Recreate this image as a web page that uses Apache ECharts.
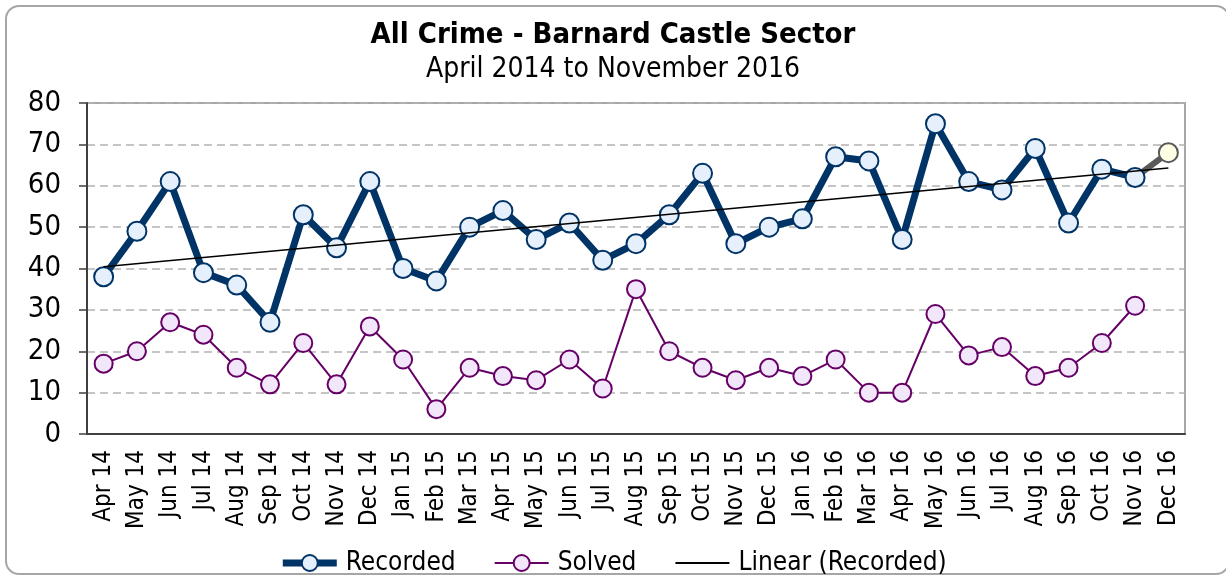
<!DOCTYPE html>
<html>
<head>
<meta charset="utf-8">
<title>All Crime - Barnard Castle Sector</title>
<script src="https://cdn.jsdelivr.net/npm/echarts@6/dist/echarts.min.js"></script>
<style>
  html, body { margin: 0; padding: 0; background: #fff; }
  #frame { position: absolute; left: 5px; top: 5px; width: 1225px; height: 570px;
           border: 2px solid #a6a6a6; border-radius: 14px; box-sizing: border-box; }
  #main { position: absolute; left: 0; top: 0; width: 1226px; height: 581px; }
</style>
</head>
<body>
<div id="frame"></div>
<div id="main"></div>
<script>
// month labels, Apr 14 .. Dec 16
var months = ['Apr 14','May 14','Jun 14','Jul 14','Aug 14','Sep 14','Oct 14','Nov 14','Dec 14',
  'Jan 15','Feb 15','Mar 15','Apr 15','May 15','Jun 15','Jul 15','Aug 15','Sep 15','Oct 15','Nov 15','Dec 15',
  'Jan 16','Feb 16','Mar 16','Apr 16','May 16','Jun 16','Jul 16','Aug 16','Sep 16','Oct 16','Nov 16','Dec 16'];

var recorded = [38,49,61,39,36,27,53,45,61,40,37,50,54,47,51,42,46,53,63,46,50,52,67,66,47,75,61,59,69,51,64,62];
var solved   = [17,20,27,24,16,12,22,12,26,18,6,16,14,13,18,11,35,20,16,13,16,14,18,10,10,29,19,21,14,16,22,31];

// projected value for Dec 16 (grey point)
var projected = 68;

// trend line end values (first and last month)
var trendEnds = [40.4, 64.3];

var trendData = months.map(function (m, i) {
  if (i === 0) return trendEnds[0];
  if (i === months.length - 1) return trendEnds[1];
  return null;
});

var projData = months.map(function () { return null; });
projData[recorded.length - 1] = { value: recorded[recorded.length - 1], symbol: 'none' };
projData[recorded.length] = projected;

var font = 'Tahoma, "DejaVu Sans Condensed", "Liberation Sans", sans-serif';

var myChart = echarts.init(document.getElementById('main'));
myChart.setOption({
  animation: false,
  textStyle: { fontFamily: font },
  title: {
    text: 'All Crime - Barnard Castle Sector',
    subtext: 'April 2014 to November 2016',
    left: 'center',
    top: 16,
    itemGap: 6,
    textStyle: { fontSize: 29, fontWeight: 'bold', color: '#000', fontFamily: font },
    subtextStyle: { fontSize: 28, color: '#000', fontFamily: font }
  },
  legend: {
    bottom: 0,
    left: 'center',
    itemWidth: 54,
    itemHeight: 20,
    itemGap: 38,
    textStyle: { fontSize: 26, color: '#000', fontFamily: font, padding: [0, 0, 0, 4] },
    data: [
      { name: 'Recorded', lineStyle: { width: 7 } },
      { name: 'Solved', lineStyle: { width: 2 } },
      { name: 'Linear (Recorded)', lineStyle: { width: 2 },
        itemStyle: { color: 'rgba(0,0,0,0)', borderWidth: 0 } }
    ]
  },
  grid: {
    left: 87, right: 41, top: 103, bottom: 147,
    show: true, borderColor: '#a6a6a6', borderWidth: 2
  },
  xAxis: {
    type: 'category',
    data: months,
    boundaryGap: true,
    axisLine: { lineStyle: { color: '#404040', width: 2 } },
    axisTick: { length: 8, lineStyle: { color: '#404040', width: 1.5 } },
    axisLabel: { rotate: 90, fontSize: 24, color: '#000', margin: 16, interval: 0, fontFamily: font }
  },
  yAxis: {
    type: 'value',
    min: 0, max: 80, interval: 10,
    axisLine: { show: true, lineStyle: { color: '#404040', width: 2 } },
    axisTick: { show: true, length: 8, lineStyle: { color: '#404040', width: 1.5 } },
    axisLabel: { fontSize: 29, color: '#000', margin: 26, fontFamily: font },
    splitLine: { lineStyle: { color: '#b3b3b3', type: [8, 5], width: 1.5 } }
  },
  series: [
    {
      name: 'projection',
      type: 'line',
      data: projData,
      connectNulls: true,
      z: 1,
      symbol: 'circle',
      symbolSize: 19,
      lineStyle: { color: '#595959', width: 6 },
      itemStyle: { color: '#ffffe6', borderColor: '#595959', borderWidth: 2 }
    },
    {
      name: 'Recorded',
      type: 'line',
      data: recorded,
      z: 3,
      symbol: 'circle',
      symbolSize: 19,
      lineStyle: { color: '#003366', width: 7 },
      itemStyle: { color: '#e6f0fc', borderColor: '#003366', borderWidth: 2 }
    },
    {
      name: 'Solved',
      type: 'line',
      data: solved,
      z: 3,
      symbol: 'circle',
      symbolSize: 18,
      lineStyle: { color: '#660066', width: 2 },
      itemStyle: { color: '#f2e6fa', borderColor: '#660066', borderWidth: 2 }
    },
    {
      name: 'Linear (Recorded)',
      type: 'line',
      data: trendData,
      connectNulls: true,
      z: 4,
      symbol: 'none',
      lineStyle: { color: '#000', width: 1.5 },
      itemStyle: { color: '#000' }
    }
  ]
});
</script>
</body>
</html>
